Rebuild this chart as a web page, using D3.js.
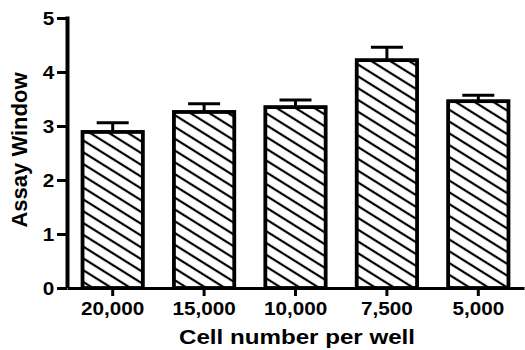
<!DOCTYPE html>
<html>
<head>
<meta charset="utf-8">
<script src="https://cdn.jsdelivr.net/npm/d3@7/dist/d3.min.js"></script>
<style>
  html, body { margin: 0; padding: 0; background: #fff; }
  svg { display: block; }
  text { font-family: "Liberation Sans", Arial, sans-serif; font-weight: bold; fill: #000; }
</style>
</head>
<body>
<svg id="chart" width="525" height="350"></svg>
<script>
// Assay window by number of cells seeded per well (mean + SEM)
const categories = ["20,000", "15,000", "10,000", "7,500", "5,000"];
const means = [2.89, 3.26, 3.35, 4.22, 3.46];
const errors = [0.17, 0.15, 0.13, 0.24, 0.11];
const yTicks = [0, 1, 2, 3, 4, 5];

const svg = d3.select("#chart");
const margin = { left: 67, right: 1, top: 18, bottom: 62 };
const W = 525, H = 350;
const FONT = "'Liberation Sans', Arial, sans-serif";
const WIDE = "scale(1.15,1)";   // wide bold lettering

const x = d3.scaleBand()
  .domain(categories)
  .range([margin.left, W - margin.right])
  .paddingInner(0.34)
  .paddingOuter(0.17);

const y = d3.scaleLinear()
  .domain([0, 5])
  .range([H - margin.bottom, margin.top]);

// diagonal hatch fill
const defs = svg.append("defs");
defs.append("pattern")
  .attr("id", "hatch")
  .attr("patternUnits", "userSpaceOnUse")
  .attr("width", 10)
  .attr("height", 10)
  .attr("patternTransform", "rotate(32)")
  .append("line")
  .attr("x1", -5).attr("y1", 5)
  .attr("x2", 15).attr("y2", 5)
  .attr("stroke", "#000")
  .attr("stroke-width", 2.2);

const rows = categories.map((c, i) => ({ c, m: means[i], e: errors[i] }));

// error bars (upper only)
const err = svg.append("g").selectAll("g").data(rows).join("g");
err.append("line")
  .attr("x1", d => x(d.c) + x.bandwidth() / 2)
  .attr("x2", d => x(d.c) + x.bandwidth() / 2)
  .attr("y1", d => y(d.m))
  .attr("y2", d => y(d.m + d.e))
  .attr("stroke", "#000").attr("stroke-width", 3);
err.append("line")
  .attr("x1", d => x(d.c) + x.bandwidth() / 2 - 16)
  .attr("x2", d => x(d.c) + x.bandwidth() / 2 + 16)
  .attr("y1", d => y(d.m + d.e))
  .attr("y2", d => y(d.m + d.e))
  .attr("stroke", "#000").attr("stroke-width", 3);

// bars
svg.append("g").selectAll("rect").data(rows).join("rect")
  .attr("x", d => x(d.c))
  .attr("width", x.bandwidth())
  .attr("y", d => y(d.m))
  .attr("height", d => y(0) - y(d.m))
  .attr("fill", "url(#hatch)")
  .attr("stroke", "#000")
  .attr("stroke-width", 3.8);

// y axis
const yAxis = svg.append("g")
  .attr("transform", `translate(${margin.left},0)`)
  .call(d3.axisLeft(y).tickValues(yTicks).tickFormat(d3.format("d"))
    .tickSizeInner(10).tickSizeOuter(0).tickPadding(1));
yAxis.select(".domain").attr("stroke-width", 4).attr("d", `M0.5,${y(5) - 1.5}V${y(0)}`);
yAxis.selectAll(".tick line").attr("stroke-width", 3);
yAxis.selectAll("text")
  .attr("transform", WIDE)
  .attr("dy", "0.36em")
  .style("font-size", "18px").style("font-family", FONT).style("font-weight", "bold");

// x axis
const xAxis = svg.append("g")
  .attr("transform", `translate(0,${y(0)})`)
  .call(d3.axisBottom(x).tickSizeInner(8).tickSizeOuter(0).tickPadding(6));
xAxis.select(".domain").attr("stroke-width", 3);
xAxis.selectAll(".tick line").attr("stroke-width", 3);
xAxis.selectAll("text")
  .attr("transform", WIDE)
  .style("font-size", "18px").style("font-family", FONT).style("font-weight", "bold");

// axis titles
const titleX = (margin.left + W) / 2 + 1;
svg.append("text")
  .attr("transform", `translate(${titleX},344) ${WIDE}`)
  .attr("text-anchor", "middle")
  .style("font-size", "21px")
  .text("Cell number per well");

svg.append("text")
  .attr("transform", `translate(27,150) rotate(-90)`)
  .attr("text-anchor", "middle")
  .style("font-size", "22px")
  .text("Assay Window");
</script>
</body>
</html>
